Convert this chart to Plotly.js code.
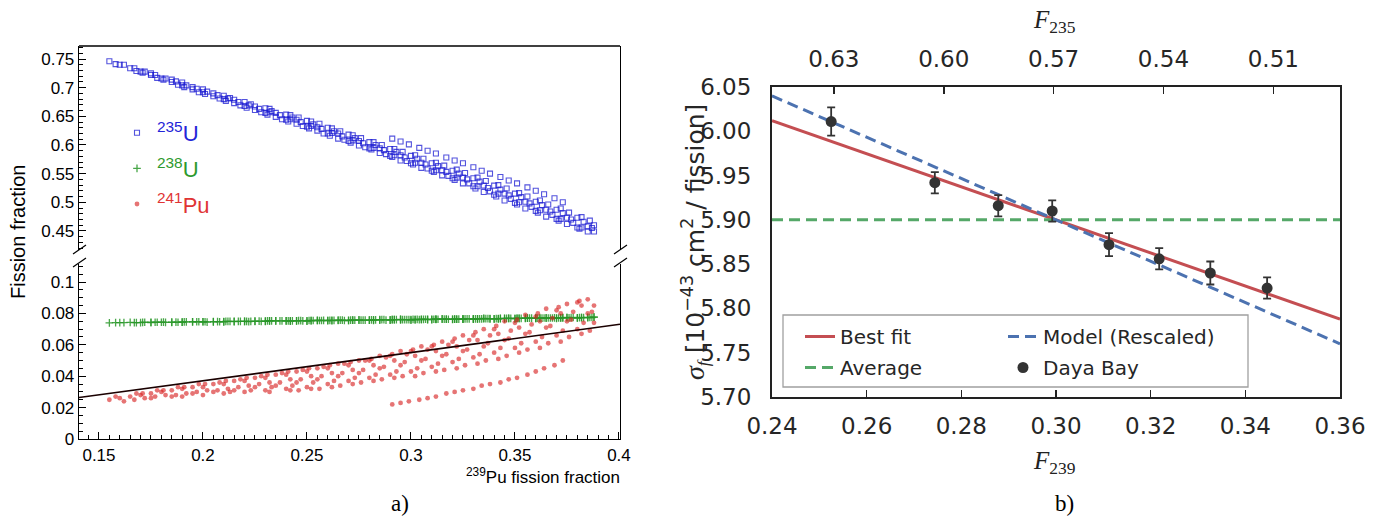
<!DOCTYPE html>
<html>
<head>
<meta charset="utf-8">
<script src="https://cdn.plot.ly/plotly-3.0.1.min.js"></script>
<style>html,body{margin:0;padding:0;background:#fff;}#chart{width:1390px;height:521px;}</style>
</head>
<body>
<div id="chart"></div>
<script>
// ---------- Panel a) : fission fractions vs 239Pu fission fraction (read from picture) ----------
var t1Pu239 = [0.155,0.165,0.175,0.185,0.195,0.205,0.215,0.225,0.235,0.245,0.255,0.265,0.275,0.285,0.295,0.305,0.315,0.325,0.335,0.345,0.355,0.365,0.375,0.385];
var t1Pu241 = [0.025,0.027,0.029,0.031,0.033,0.035,0.037,0.039,0.041,0.043,0.045,0.048,0.050,0.053,0.056,0.059,0.062,0.066,0.070,0.075,0.079,0.083,0.086,0.089];
var t1U238  = [0.0740,0.0743,0.0742,0.0745,0.0746,0.0748,0.0748,0.0751,0.0752,0.0752,0.0755,0.0757,0.0757,0.0760,0.0760,0.0763,0.0764,0.0764,0.0767,0.0769,0.0769,0.0772,0.0773,0.0775];
var t1U235  = [0.746,0.734,0.722,0.710,0.697,0.685,0.673,0.661,0.649,0.637,0.625,0.611,0.599,0.586,0.573,0.560,0.547,0.533,0.518,0.503,0.489,0.475,0.462,0.449];

var t2Pu239 = [0.158,0.168,0.178,0.188,0.198,0.208,0.218,0.228,0.238,0.248,0.258,0.268,0.278,0.288,0.298,0.308,0.318,0.328,0.338,0.348,0.358,0.368,0.378,0.388];
var t2Pu241 = [0.027,0.029,0.031,0.033,0.035,0.036,0.038,0.040,0.042,0.044,0.046,0.048,0.050,0.052,0.054,0.057,0.060,0.063,0.066,0.069,0.073,0.077,0.081,0.085];
var t2U238  = [0.0742,0.0741,0.0744,0.0744,0.0747,0.0747,0.0750,0.0750,0.0753,0.0753,0.0756,0.0755,0.0758,0.0758,0.0761,0.0761,0.0763,0.0765,0.0766,0.0768,0.0770,0.0771,0.0774,0.0776];
var t2U235  = [0.741,0.729,0.717,0.705,0.692,0.681,0.669,0.657,0.645,0.633,0.620,0.609,0.596,0.584,0.572,0.559,0.546,0.533,0.519,0.506,0.492,0.478,0.464,0.449];

var t3Pu239 = [0.162,0.172,0.182,0.192,0.202,0.212,0.222,0.232,0.242,0.252,0.262,0.272,0.282,0.292,0.302,0.312,0.322,0.332,0.342,0.352,0.362,0.372,0.382];
var t3Pu241 = [0.024,0.026,0.028,0.029,0.031,0.032,0.034,0.036,0.038,0.040,0.042,0.044,0.047,0.050,0.053,0.056,0.059,0.063,0.067,0.071,0.075,0.080,0.085];
var t3U238  = [0.0741,0.0744,0.0743,0.0746,0.0745,0.0749,0.0748,0.0752,0.0751,0.0754,0.0754,0.0757,0.0756,0.0760,0.0759,0.0762,0.0763,0.0766,0.0765,0.0768,0.0770,0.0772,0.0773];
var t3U235  = [0.740,0.728,0.716,0.704,0.693,0.681,0.669,0.657,0.645,0.633,0.621,0.608,0.595,0.582,0.569,0.556,0.543,0.528,0.515,0.500,0.486,0.471,0.456];

var t4Pu239 = [0.175,0.185,0.195,0.205,0.215,0.225,0.235,0.245,0.255,0.265,0.275,0.285,0.295,0.305,0.315,0.325,0.335,0.345,0.355,0.365,0.375,0.385];
var t4Pu241 = [0.026,0.027,0.029,0.030,0.031,0.033,0.034,0.036,0.038,0.040,0.042,0.045,0.047,0.050,0.053,0.056,0.059,0.063,0.067,0.071,0.075,0.080];
var t4U238  = [0.0744,0.0743,0.0747,0.0746,0.0750,0.0749,0.0753,0.0752,0.0756,0.0755,0.0759,0.0758,0.0762,0.0761,0.0765,0.0764,0.0768,0.0767,0.0771,0.0770,0.0774,0.0773];
var t4U235  = [0.725,0.714,0.701,0.690,0.679,0.667,0.656,0.644,0.631,0.620,0.607,0.594,0.582,0.569,0.556,0.543,0.529,0.515,0.501,0.487,0.473,0.458];

var t5Pu239 = [0.190,0.200,0.210,0.220,0.230,0.240,0.250,0.260,0.270,0.280,0.290,0.300,0.310,0.320,0.330,0.340,0.350,0.360,0.370,0.380,0.388];
var t5Pu241 = [0.027,0.028,0.029,0.030,0.031,0.032,0.033,0.035,0.037,0.039,0.041,0.043,0.046,0.049,0.052,0.055,0.058,0.062,0.066,0.070,0.074];
var t5U238  = [0.0745,0.0747,0.0746,0.0749,0.0750,0.0752,0.0751,0.0754,0.0755,0.0757,0.0758,0.0758,0.0761,0.0762,0.0763,0.0765,0.0766,0.0768,0.0769,0.0771,0.0776];
var t5U235  = [0.709,0.697,0.686,0.675,0.664,0.653,0.642,0.630,0.618,0.605,0.593,0.581,0.568,0.555,0.542,0.529,0.515,0.501,0.487,0.473,0.460];

var t6Pu239 = [0.232,0.242,0.252,0.262,0.272,0.282,0.292,0.302,0.312,0.322,0.332,0.342,0.352,0.362,0.372,0.382];
var t6Pu241 = [0.030,0.031,0.032,0.033,0.035,0.037,0.039,0.040,0.043,0.045,0.048,0.051,0.055,0.058,0.062,0.067];
var t6U238  = [0.0752,0.0753,0.0754,0.0756,0.0757,0.0759,0.0760,0.0762,0.0763,0.0764,0.0766,0.0767,0.0769,0.0771,0.0772,0.0774];
var t6U235  = [0.663,0.652,0.641,0.629,0.617,0.605,0.593,0.582,0.569,0.557,0.543,0.530,0.516,0.503,0.489,0.474];

var t7Pu239 = [0.291,0.295,0.299,0.304,0.308,0.312,0.317,0.321,0.325,0.330,0.334,0.338,0.343,0.347,0.351,0.356,0.360,0.364,0.369,0.373];
var t7Pu241 = [0.022,0.023,0.024,0.025,0.026,0.027,0.029,0.030,0.031,0.032,0.034,0.035,0.036,0.038,0.039,0.041,0.043,0.045,0.047,0.050];
var t7U238  = [0.0760,0.0760,0.0761,0.0761,0.0762,0.0763,0.0763,0.0764,0.0765,0.0766,0.0766,0.0767,0.0768,0.0768,0.0769,0.0770,0.0770,0.0771,0.0772,0.0773];
var t7U235  = [0.611,0.606,0.601,0.595,0.590,0.585,0.578,0.573,0.568,0.561,0.555,0.550,0.544,0.538,0.533,0.526,0.520,0.514,0.507,0.500];

var t8Pu239 = [0.160,0.170,0.180,0.190,0.200,0.210,0.220,0.230,0.240,0.250,0.260,0.270,0.280,0.290,0.300,0.310,0.320,0.330,0.340,0.350,0.360,0.370,0.380];
var t8Pu241 = [0.026,0.028,0.030,0.032,0.033,0.035,0.037,0.039,0.041,0.043,0.045,0.047,0.050,0.053,0.056,0.059,0.062,0.066,0.070,0.074,0.078,0.082,0.087];
var t8U238  = [0.0741,0.0742,0.0744,0.0745,0.0747,0.0748,0.0749,0.0751,0.0752,0.0753,0.0755,0.0756,0.0757,0.0759,0.0760,0.0762,0.0763,0.0765,0.0766,0.0768,0.0769,0.0771,0.0772];
var t8U235  = [0.740,0.728,0.716,0.704,0.692,0.680,0.668,0.656,0.644,0.632,0.620,0.607,0.594,0.581,0.568,0.555,0.542,0.528,0.513,0.499,0.485,0.471,0.456];

var t9Pu239 = [0.167,0.177,0.187,0.197,0.207,0.217,0.227,0.237,0.247,0.257,0.267,0.277,0.287,0.297,0.307,0.317,0.327,0.337,0.347,0.357,0.367,0.377,0.387];
var t9Pu241 = [0.025,0.027,0.028,0.030,0.031,0.033,0.035,0.036,0.038,0.040,0.042,0.044,0.046,0.049,0.051,0.054,0.057,0.061,0.064,0.068,0.072,0.076,0.081];
var t9U238  = [0.0742,0.0744,0.0745,0.0747,0.0748,0.0750,0.0751,0.0753,0.0754,0.0755,0.0757,0.0758,0.0760,0.0761,0.0763,0.0764,0.0765,0.0767,0.0768,0.0770,0.0771,0.0773,0.0774];
var t9U235  = [0.734,0.722,0.711,0.698,0.687,0.675,0.663,0.652,0.640,0.628,0.615,0.603,0.591,0.578,0.566,0.553,0.540,0.525,0.512,0.498,0.484,0.470,0.455];

var t10Pu239 = [0.213,0.223,0.233,0.243,0.253,0.263,0.273,0.283,0.293,0.303,0.313,0.323,0.333,0.343,0.353,0.363,0.373,0.383];
var t10Pu241 = [0.030,0.031,0.033,0.034,0.036,0.037,0.039,0.041,0.043,0.045,0.048,0.051,0.054,0.058,0.061,0.065,0.069,0.074];
var t10U238  = [0.0749,0.0750,0.0752,0.0753,0.0755,0.0756,0.0757,0.0759,0.0760,0.0762,0.0763,0.0764,0.0766,0.0767,0.0769,0.0770,0.0772,0.0773];
var t10U235  = [0.682,0.671,0.659,0.648,0.636,0.624,0.612,0.600,0.588,0.576,0.563,0.550,0.536,0.522,0.509,0.495,0.481,0.466];

var t11Pu239 = [0.171,0.181,0.191,0.201,0.211,0.221,0.231,0.241,0.251,0.261,0.271,0.281,0.291,0.301,0.311,0.321,0.331,0.341,0.351,0.361,0.371,0.381];
var t11Pu241 = [0.029,0.031,0.033,0.035,0.037,0.039,0.041,0.043,0.045,0.047,0.049,0.051,0.054,0.057,0.060,0.064,0.068,0.072,0.076,0.080,0.084,0.088];
var t11U238  = [0.0743,0.0745,0.0746,0.0747,0.0749,0.0750,0.0752,0.0753,0.0755,0.0756,0.0757,0.0759,0.0760,0.0762,0.0763,0.0764,0.0766,0.0767,0.0769,0.0770,0.0771,0.0773];
var t11U235  = [0.726,0.714,0.701,0.689,0.677,0.665,0.653,0.641,0.629,0.616,0.604,0.592,0.579,0.566,0.553,0.539,0.524,0.510,0.496,0.482,0.468,0.454];

var t12Pu239 = [0.246,0.256,0.266,0.276,0.286,0.296,0.306,0.316,0.326,0.336,0.346,0.356,0.366,0.376,0.386];
var t12Pu241 = [0.031,0.032,0.034,0.036,0.038,0.040,0.042,0.044,0.047,0.050,0.053,0.057,0.061,0.065,0.069];
var t12U238  = [0.0754,0.0755,0.0757,0.0758,0.0760,0.0761,0.0762,0.0764,0.0765,0.0767,0.0768,0.0770,0.0771,0.0772,0.0774];
var t12U235  = [0.648,0.637,0.624,0.612,0.600,0.588,0.576,0.564,0.551,0.537,0.524,0.510,0.496,0.482,0.468];

// straight black line in panel a)
var lineAX = [0.1404, 0.4005];
var lineAY = [0.0264, 0.0731];

// ---------- Panel b) : cross section vs F239 ----------
var dbF239 = [0.2525, 0.2744, 0.2878, 0.2992, 0.3112, 0.3218, 0.3326, 0.3446];
var dbSigma = [6.011, 5.942, 5.916, 5.910, 5.872, 5.856, 5.840, 5.823];
var dbErr = [0.016, 0.012, 0.012, 0.012, 0.013, 0.012, 0.013, 0.012];
var fitX = [0.24, 0.36];
var bestFitY = [6.012, 5.788];
var modelY = [6.040, 5.760];
var averageY = [5.90, 5.90];
var f239Range = [0.24, 0.36];
var f235Range = [0.6469, 0.4918];
var f235Ticks = [0.63, 0.60, 0.57, 0.54, 0.51];
var f235Labels = ['0.63', '0.60', '0.57', '0.54', '0.51'];

// ---------- build ----------
var allPu239 = [].concat(t1Pu239, t2Pu239, t3Pu239, t4Pu239, t5Pu239, t6Pu239, t7Pu239, t8Pu239, t9Pu239, t10Pu239, t11Pu239, t12Pu239);
var allPu241 = [].concat(t1Pu241, t2Pu241, t3Pu241, t4Pu241, t5Pu241, t6Pu241, t7Pu241, t8Pu241, t9Pu241, t10Pu241, t11Pu241, t12Pu241);
var allU238  = [].concat(t1U238, t2U238, t3U238, t4U238, t5U238, t6U238, t7U238, t8U238, t9U238, t10U238, t11U238, t12U238);
var allU235  = [].concat(t1U235, t2U235, t3U235, t4U235, t5U235, t6U235, t7U235, t8U235, t9U235, t10U235, t11U235, t12U235);

var W = 1390, H = 521;
function px(x) { return x / W; }
function py(y) { return 1 - y / H; }

var traces = [
  { x: allPu239, y: allU235, xaxis: 'x', yaxis: 'y2', type: 'scatter', mode: 'markers',
    name: '<span style="color:#2424d8"><sup>235</sup>U</span>', legend: 'legend3', legendgroup: 'a1',
    marker: { symbol: 'square-open', size: 5, color: 'rgba(25,25,210,0.75)', line: { width: 1.1, color: 'rgba(25,25,210,0.75)' } } },
  { x: allPu239, y: allU238, xaxis: 'x', yaxis: 'y', type: 'scatter', mode: 'markers',
    name: '<span style="color:#2e9a2e"><sup>238</sup>U</span>', legend: 'legend3', legendgroup: 'a2',
    marker: { symbol: 'cross-thin-open', size: 5.5, color: 'rgba(40,150,40,0.85)', line: { width: 1.3, color: 'rgba(40,150,40,0.85)' } } },
  { x: allPu239, y: allPu241, xaxis: 'x', yaxis: 'y', type: 'scatter', mode: 'markers',
    name: '<span style="color:#e03434"><sup>241</sup>Pu</span>', legend: 'legend3', legendgroup: 'a3',
    marker: { symbol: 'circle', size: 4.8, color: 'rgba(215,30,30,0.62)', line: { width: 0 } } },
  { x: lineAX, y: lineAY, xaxis: 'x', yaxis: 'y', type: 'scatter', mode: 'lines', showlegend: false,
    line: { color: '#1a0000', width: 1.6 } },

  { x: fitX, y: bestFitY, xaxis: 'x3', yaxis: 'y3', type: 'scatter', mode: 'lines', name: 'Best fit',
    legend: 'legend', legendgroup: 'b1', line: { color: '#c44e52', width: 3 } },
  { x: fitX, y: averageY, xaxis: 'x3', yaxis: 'y3', type: 'scatter', mode: 'lines', name: 'Average',
    legend: 'legend', legendgroup: 'b2', line: { color: '#55a868', width: 3, dash: '11px,6px' } },
  { x: fitX, y: modelY, xaxis: 'x3', yaxis: 'y3', type: 'scatter', mode: 'lines', name: 'Model (Rescaled)',
    legend: 'legend2', legendgroup: 'b3', line: { color: '#4c72b0', width: 3, dash: '11px,6px' } },
  { x: dbF239, y: dbSigma, xaxis: 'x3', yaxis: 'y3', type: 'scatter', mode: 'markers', name: 'Daya Bay',
    legend: 'legend2', legendgroup: 'b4',
    marker: { size: 11, color: '#333333' },
    error_y: { type: 'data', array: dbErr, visible: true, color: '#333333', thickness: 1.8, width: 4 } },
  // carrier for the top F235 axis (draws nothing)
  { x: f235Ticks, y: f235Ticks.map(function () { return null; }), xaxis: 'x4', yaxis: 'y3', type: 'scatter',
    mode: 'markers', showlegend: false, hoverinfo: 'skip', marker: { opacity: 0 } }
];

var axA = { showgrid: false, zeroline: false, showline: true, linecolor: '#000', linewidth: 1.3,
  ticks: 'inside', ticklen: 7, tickwidth: 1, tickcolor: '#000',
  tickfont: { family: 'Liberation Sans, Arial, sans-serif', size: 17, color: '#000' } };
var axB = { showgrid: false, zeroline: false, showline: true, mirror: true, linecolor: '#222', linewidth: 2,
  tickcolor: '#222', tickwidth: 1.5,
  tickfont: { family: 'DejaVu Sans, sans-serif', size: 23, color: '#262626' } };

var layout = {
  width: W, height: H,
  margin: { l: 0, r: 0, t: 0, b: 0, pad: 0 },
  paper_bgcolor: '#fff', plot_bgcolor: 'rgba(0,0,0,0)',
  showlegend: true,
  xaxis: Object.assign({}, axA, { domain: [px(79), px(620)], range: [0.1404, 0.4005], anchor: 'y',
    dtick: 0.05, tick0: 0.15, ticklabelstandoff: 0,
    minor: { ticks: 'inside', ticklen: 4, dtick: 0.005, tickcolor: '#000', tickwidth: 1 } }),
  yaxis: Object.assign({}, axA, { domain: [py(439), py(264)], range: [0, 0.1115], anchor: 'x', mirror: true,
    dtick: 0.02, tick0: 0,
    minor: { ticks: 'inside', ticklen: 4, dtick: 0.005, tickcolor: '#000', tickwidth: 1 } }),
  yaxis2: Object.assign({}, axA, { domain: [py(250), py(46)], range: [0.4167, 0.7727], anchor: 'x', mirror: true,
    dtick: 0.05, tick0: 0.45,
    minor: { ticks: 'inside', ticklen: 4, dtick: 0.01, tickcolor: '#000', tickwidth: 1 } }),
  xaxis3: Object.assign({}, axB, { domain: [px(772), px(1340)], range: f239Range, anchor: 'y3',
    ticks: 'inside', ticklen: 7, dtick: 0.02, tick0: 0.24, tickformat: '.2f', ticklabelstandoff: 7 }),
  yaxis3: Object.assign({}, axB, { domain: [py(397), py(87)], range: [5.70, 6.05], anchor: 'x3',
    ticks: '', dtick: 0.05, tick0: 5.70, tickformat: '.2f', ticklabelstandoff: 14 }),
  xaxis4: { overlaying: 'x3', side: 'top', anchor: 'y3', range: f235Range,
    tickmode: 'array', tickvals: f235Ticks, ticktext: f235Labels,
    showgrid: false, zeroline: false, showline: false,
    ticks: 'inside', ticklen: 7, tickwidth: 1.5, tickcolor: '#222', ticklabelstandoff: 14,
    tickfont: { family: 'DejaVu Sans, sans-serif', size: 23, color: '#262626' } },
  legend3: { x: px(117), y: py(112), xanchor: 'left', yanchor: 'top', bgcolor: 'rgba(0,0,0,0)',
    borderwidth: 0, tracegroupgap: 4,
    font: { family: 'Liberation Sans, Arial, sans-serif', size: 22, color: '#000' } },
  legend: { x: px(800), y: py(317), xanchor: 'left', yanchor: 'top', bgcolor: 'rgba(0,0,0,0)',
    borderwidth: 0, tracegroupgap: 2,
    font: { family: 'DejaVu Sans, sans-serif', size: 20, color: '#262626' } },
  legend2: { x: px(1003), y: py(317), xanchor: 'left', yanchor: 'top', bgcolor: 'rgba(0,0,0,0)',
    borderwidth: 0, tracegroupgap: 2,
    font: { family: 'DejaVu Sans, sans-serif', size: 20, color: '#262626' } },
  shapes: [
    { type: 'line', xref: 'paper', yref: 'paper', x0: px(79), x1: px(620), y0: py(46), y1: py(46), line: { color: '#000', width: 1.3 } },
    { type: 'line', xref: 'paper', yref: 'paper', x0: px(73), x1: px(86), y0: py(254), y1: py(245), line: { color: '#000', width: 1.2 } },
    { type: 'line', xref: 'paper', yref: 'paper', x0: px(73), x1: px(86), y0: py(267), y1: py(258), line: { color: '#000', width: 1.2 } },
    { type: 'line', xref: 'paper', yref: 'paper', x0: px(614), x1: px(627), y0: py(254), y1: py(245), line: { color: '#000', width: 1.2 } },
    { type: 'line', xref: 'paper', yref: 'paper', x0: px(614), x1: px(627), y0: py(267), y1: py(258), line: { color: '#000', width: 1.2 } },
    { type: 'rect', xref: 'paper', yref: 'paper', layer: 'above', x0: px(783), x1: px(1248), y0: py(387), y1: py(315),
      line: { color: '#a0a0a0', width: 1.3 }, fillcolor: 'rgba(255,255,255,0.8)' }
  ],
  annotations: [
    { xref: 'paper', yref: 'paper', x: px(18), y: py(232), text: 'Fission fraction', textangle: -90, showarrow: false,
      xanchor: 'center', yanchor: 'middle', font: { family: 'Liberation Sans, Arial, sans-serif', size: 20, color: '#000' } },
    { xref: 'paper', yref: 'paper', x: px(622), y: py(476), text: '<sup>239</sup>Pu fission fraction', showarrow: false,
      xanchor: 'right', yanchor: 'middle', font: { family: 'Liberation Sans, Arial, sans-serif', size: 17, color: '#000' } },
    { xref: 'paper', yref: 'paper', x: px(400), y: py(503), text: 'a)', showarrow: false,
      xanchor: 'center', yanchor: 'middle', font: { family: 'Liberation Serif, serif', size: 23, color: '#000' } },
    { xref: 'paper', yref: 'paper', x: px(1064), y: py(503), text: 'b)', showarrow: false,
      xanchor: 'center', yanchor: 'middle', font: { family: 'Liberation Serif, serif', size: 23, color: '#000' } },
    { xref: 'paper', yref: 'paper', x: px(1054), y: py(22), text: '<i>F</i><sub>235</sub>', showarrow: false,
      xanchor: 'center', yanchor: 'middle', font: { family: 'Liberation Serif, serif', size: 25, color: '#222' } },
    { xref: 'paper', yref: 'paper', x: px(1054), y: py(462), text: '<i>F</i><sub>239</sub>', showarrow: false,
      xanchor: 'center', yanchor: 'middle', font: { family: 'Liberation Serif, serif', size: 25, color: '#222' } },
    { xref: 'paper', yref: 'paper', x: px(695), y: py(242), textangle: -90, showarrow: false,
      text: '<span style="font-family:Liberation Serif;font-style:italic;font-size:28px">σ</span><sub><span style="font-family:Liberation Serif;font-style:italic">f</span></sub> [10<sup>−43</sup> cm<sup>2</sup> / fission]',
      xanchor: 'center', yanchor: 'middle', font: { family: 'DejaVu Sans, sans-serif', size: 25, color: '#262626' } }
  ]
};

Plotly.newPlot('chart', traces, layout, { displayModeBar: false, staticPlot: true });
</script>
</body>
</html>
